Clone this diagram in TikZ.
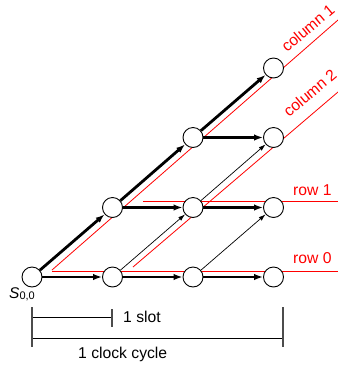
\documentclass[tikz,border=0pt]{standalone}
\usepackage{fontspec}
\setmainfont{Liberation Sans}
\usetikzlibrary{arrows.meta}
\tikzset{
  st/.style={circle,draw,fill=white,minimum size=20pt,inner sep=0pt,line width=0.9pt},
  thk/.style={line width=2.8pt,-{Latex[length=9pt,width=6.5pt]}},
  thn/.style={line width=0.7pt,-{Latex[length=7pt,width=4.5pt]}},
  redl/.style={red,line width=0.8pt},
  lbl/.style={font=\fontsize{15.7}{18}\selectfont,inner sep=0pt,anchor=base west},
  rlbl/.style={lbl,red},
  dimline/.style={line width=0.8pt},
  tickline/.style={line width=1.2pt,black!70}
}
\begin{document}
\begin{tikzpicture}[x=1pt,y=-1pt]
\useasboundingbox (0,0) rectangle (338,368);
% guide coordinates
\coordinate (r0a) at (52,271);
\coordinate (r0b) at (338,271);
\coordinate (r1a) at (143,201);
\coordinate (r1b) at (338,201);
\coordinate (c1a) at (52,270);
\coordinate (c1b) at (338,20);
\coordinate (c2a) at (133,267);
\coordinate (c2b) at (338,92);
\draw[redl] (r0a) -- (r0b);
\draw[redl] (r1a) -- (r1b);
\draw[redl] (c1a) -- (c1b);
\draw[redl] (c2a) -- (c2b);
% nodes
\node[st] (n00) at (32,277) {};
\node[st] (n10) at (112.5,277) {};
\node[st] (n20) at (193,277) {};
\node[st] (n30) at (273.5,277) {};
\node[st] (n11) at (112.5,207.5) {};
\node[st] (n21) at (193,207.5) {};
\node[st] (n31) at (273.5,207.5) {};
\node[st] (n22) at (193,137.5) {};
\node[st] (n32) at (273.5,137.5) {};
\node[st] (n33) at (273.5,68) {};
% thick arrows
\draw[thk] (n00) -- (n10);
\draw[thk] (n10) -- (n20);
\draw[thk] (n20) -- (n30);
\draw[thk] (n11) -- (n21);
\draw[thk] (n21) -- (n31);
\draw[thk] (n22) -- (n32);
\draw[thk] (n00) -- (n11);
\draw[thk] (n11) -- (n22);
\draw[thk] (n22) -- (n33);
% thin arrows
\draw[thn] (n10) -- (n21);
\draw[thn] (n21) -- (n32);
\draw[thn] (n20) -- (n31);
% labels
\node[rlbl,rotate=40] (lc1) at (287,53) {column 1};
\node[rlbl,rotate=40] (lc2) at (289,118) {column 2};
\node[rlbl] (lr1) at (293,195) {row 1};
\node[rlbl] (lr0) at (293,263) {row 0};
\node[inner sep=0pt,anchor=base west] (ls) at (9,298)
  {\fontsize{15.5}{17}\selectfont\itshape S\fontsize{11}{12}\selectfont\upshape\raisebox{-1pt}{0,0}};
% dimensions
\coordinate (t0a) at (32,307);
\coordinate (t0b) at (32,347);
\coordinate (t1a) at (112,309);
\coordinate (t1b) at (112,327);
\coordinate (t2a) at (283,307);
\coordinate (t2b) at (283,347);
\coordinate (s0) at (32,317);
\coordinate (s1) at (112,317);
\coordinate (k0) at (32,338);
\coordinate (k1) at (283,338);
\draw[dimline] (s0) -- (s1);
\draw[dimline] (k0) -- (k1);
\draw[tickline] (t0a) -- (t0b);
\draw[tickline] (t1a) -- (t1b);
\draw[tickline] (t2a) -- (t2b);
\node[lbl] (lslot) at (123,322.5) {1 slot};
\node[lbl] (lclock) at (78,358) {1 clock cycle};
\end{tikzpicture}
\end{document}
